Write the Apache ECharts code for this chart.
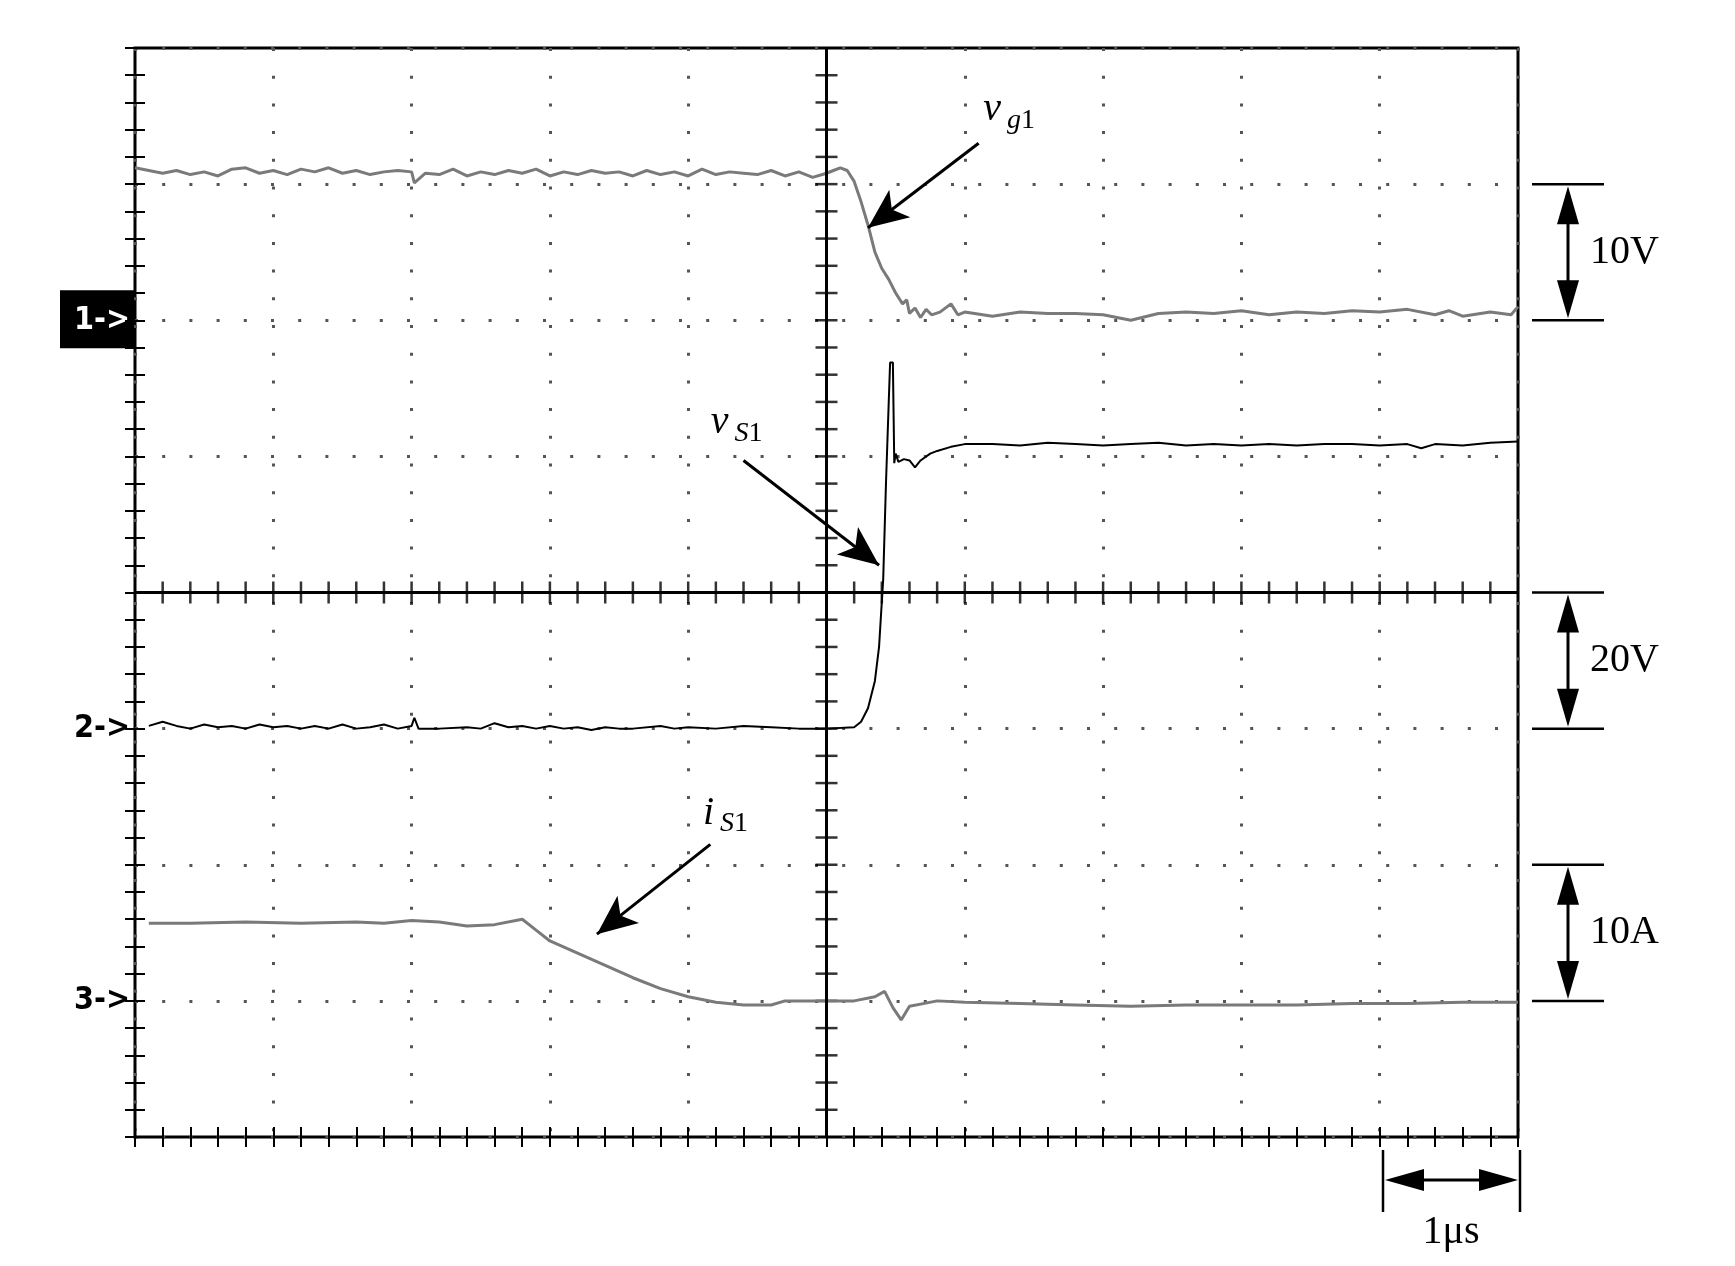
<!DOCTYPE html>
<html><head><meta charset="utf-8">
<script src="https://cdn.jsdelivr.net/npm/echarts@6/dist/echarts.min.js"></script>
<style>html,body{margin:0;background:#fff}#c{width:1735px;height:1266px}</style>
</head><body><div id="c"></div>
<script>
// scope traces, in screen divisions (x 0..10, y 0..8)
var vg1 = [[0,7.12],[0.1,7.1],[0.2,7.08],[0.3,7.1],[0.4,7.07],[0.5,7.09],[0.6,7.06],[0.7,7.11],[0.8,7.12],[0.9,7.08],[1.0,7.1],[1.1,7.07],[1.2,7.11],[1.3,7.09],[1.4,7.12],[1.5,7.08],[1.6,7.1],[1.7,7.07],[1.8,7.09],[1.9,7.1],[2.0,7.09],[2.02,7.01],[2.1,7.08],[2.2,7.07],[2.3,7.11],[2.4,7.06],[2.5,7.09],[2.6,7.07],[2.7,7.1],[2.8,7.08],[2.9,7.11],[3.0,7.06],[3.1,7.09],[3.2,7.07],[3.3,7.1],[3.4,7.08],[3.5,7.09],[3.6,7.06],[3.7,7.1],[3.8,7.07],[3.9,7.09],[4.0,7.06],[4.1,7.11],[4.2,7.07],[4.3,7.09],[4.4,7.08],[4.5,7.07],[4.6,7.1],[4.7,7.06],[4.8,7.09],[4.9,7.05],[5.0,7.08],[5.05,7.1],[5.1,7.12],[5.15,7.1],[5.2,7.02],[5.25,6.87],[5.3,6.7],[5.35,6.5],[5.4,6.38],[5.45,6.3],[5.5,6.2],[5.55,6.12],[5.58,6.15],[5.6,6.05],[5.64,6.09],[5.68,6.02],[5.72,6.08],[5.76,6.04],[5.82,6.06],[5.9,6.12],[5.95,6.04],[6.0,6.06],[6.2,6.03],[6.4,6.06],[6.6,6.05],[6.8,6.05],[7.0,6.04],[7.2,6.0],[7.4,6.05],[7.6,6.06],[7.8,6.05],[8.0,6.07],[8.2,6.04],[8.4,6.06],[8.6,6.05],[8.8,6.07],[9.0,6.06],[9.2,6.08],[9.4,6.04],[9.5,6.07],[9.6,6.03],[9.8,6.06],[9.95,6.04],[10,6.1]];
var vS1 = [[0.1,3.02],[0.2,3.05],[0.3,3.02],[0.4,3.0],[0.5,3.03],[0.6,3.01],[0.7,3.02],[0.8,3.0],[0.9,3.03],[1.0,3.01],[1.1,3.02],[1.2,3.0],[1.3,3.02],[1.4,3.0],[1.5,3.03],[1.6,3.0],[1.7,3.01],[1.8,3.03],[1.9,3.0],[2.0,3.02],[2.02,3.08],[2.05,3.0],[2.2,3.0],[2.4,3.01],[2.5,3.0],[2.6,3.04],[2.7,3.01],[2.8,3.02],[2.9,3.0],[3.0,3.02],[3.1,3.0],[3.2,3.01],[3.3,2.99],[3.4,3.01],[3.5,3.0],[3.6,3.0],[3.8,3.02],[3.9,3.0],[4.0,3.01],[4.2,3.0],[4.4,3.02],[4.6,3.01],[4.8,3.0],[5.0,3.0],[5.2,3.01],[5.25,3.05],[5.3,3.15],[5.35,3.35],[5.38,3.6],[5.41,4.1],[5.43,4.8],[5.45,5.4],[5.46,5.69],[5.48,5.69],[5.49,4.95],[5.5,5.02],[5.52,4.96],[5.56,4.98],[5.6,4.97],[5.64,4.92],[5.68,4.97],[5.75,5.02],[5.8,5.04],[5.9,5.07],[6.0,5.09],[6.2,5.09],[6.4,5.08],[6.6,5.1],[6.8,5.09],[7.0,5.08],[7.2,5.09],[7.4,5.1],[7.6,5.08],[7.8,5.09],[8.0,5.08],[8.2,5.09],[8.4,5.08],[8.6,5.09],[8.8,5.09],[9.0,5.08],[9.2,5.09],[9.3,5.06],[9.4,5.09],[9.6,5.08],[9.8,5.1],[10,5.11]];
var iS1 = [[0.1,1.57],[0.4,1.57],[0.8,1.58],[1.2,1.57],[1.6,1.58],[1.8,1.57],[2.0,1.59],[2.2,1.58],[2.4,1.55],[2.6,1.56],[2.8,1.6],[2.9,1.52],[3.0,1.44],[3.2,1.35],[3.4,1.26],[3.6,1.17],[3.8,1.09],[4.0,1.03],[4.2,0.99],[4.4,0.97],[4.6,0.97],[4.7,1.0],[5.0,1.0],[5.2,1.0],[5.35,1.03],[5.42,1.07],[5.48,0.95],[5.54,0.86],[5.6,0.96],[5.7,0.98],[5.8,1.0],[6.0,0.99],[6.4,0.98],[6.8,0.97],[7.2,0.96],[7.6,0.97],[8.0,0.97],[8.4,0.97],[8.8,0.98],[9.2,0.98],[9.6,0.99],[10,0.99]];
// centre cross ticks (minor divisions)
var xTicks = [0.2,0.4,0.6,0.8,1,1.2,1.4,1.6,1.8,2,2.2,2.4,2.6,2.8,3,3.2,3.4,3.6,3.8,4,4.2,4.4,4.6,4.8,5.2,5.4,5.6,5.8,6,6.2,6.4,6.6,6.8,7,7.2,7.4,7.6,7.8,8,8.2,8.4,8.6,8.8,9,9.2,9.4,9.6,9.8];
var yTicks = [0.2,0.4,0.6,0.8,1,1.2,1.4,1.6,1.8,2,2.2,2.4,2.6,2.8,3,3.2,3.4,3.6,3.8,4.2,4.4,4.6,4.8,5,5.2,5.4,5.6,5.8,6,6.2,6.4,6.6,6.8,7,7.2,7.4,7.6,7.8];

var L = 135, T = 48, W = 1383, H = 1089, dy = H / 8;
function yp(d) { return T + (8 - d) * dy; }
var serif = "'Liberation Serif', 'Times New Roman', serif";

function scaleBar(d1, d2, txt) {
  var y1 = yp(d1), y2 = yp(d2), x = 1568;
  return [
    { type: 'line', shape: { x1: 1532, y1: y1, x2: 1604, y2: y1 }, style: { stroke: '#000', lineWidth: 2.5 } },
    { type: 'line', shape: { x1: 1532, y1: y2, x2: 1604, y2: y2 }, style: { stroke: '#000', lineWidth: 2.5 } },
    { type: 'line', shape: { x1: x, y1: y1 + 20, x2: x, y2: y2 - 20 }, style: { stroke: '#000', lineWidth: 3 } },
    { type: 'polygon', shape: { points: [[x - 11, y1 + 40], [x + 11, y1 + 40], [x, y1 + 2]] }, style: { fill: '#000' } },
    { type: 'polygon', shape: { points: [[x - 11, y2 - 40], [x + 11, y2 - 40], [x, y2 - 2]] }, style: { fill: '#000' } },
    { type: 'text', x: 1590, y: (y1 + y2) / 2, style: { text: txt, font: '40px ' + serif, fill: '#000', verticalAlign: 'middle' } }
  ];
}
function chanTag(d, txt, boxed) {
  var y = yp(d);
  var g = [];
  if (boxed) g.push({ type: 'rect', shape: { x: 60, y: y - 30, width: 75, height: 58 }, style: { fill: '#000' } });
  g.push({ type: 'text', x: 130, y: y, style: { text: txt, font: 'bold 32px "DejaVu Sans Condensed", "DejaVu Sans", sans-serif', fill: boxed ? '#fff' : '#000', align: 'right', verticalAlign: 'middle' } });
  return g;
}
var labelRich = { v: { fontFamily: serif, fontStyle: 'italic', fontSize: 40, color: '#000' }, s: { fontFamily: serif, fontStyle: 'italic', fontSize: 28, color: '#000', padding: [22, 0, 0, 6] }, n: { fontFamily: serif, fontSize: 28, color: '#000', padding: [22, 0, 0, 0] } };

var graphic = [].concat(scaleBar(7, 6, '10V'), scaleBar(4, 3, '20V'), scaleBar(2, 1, '10A'), chanTag(6, '1->', true), chanTag(3, '2->', false), chanTag(1, '3->', false), [
  { type: 'line', shape: { x1: 1383, y1: 1150, x2: 1383, y2: 1212 }, style: { stroke: '#000', lineWidth: 2.5 } },
  { type: 'line', shape: { x1: 1520, y1: 1150, x2: 1520, y2: 1212 }, style: { stroke: '#000', lineWidth: 2.5 } },
  { type: 'line', shape: { x1: 1404, y1: 1180, x2: 1499, y2: 1180 }, style: { stroke: '#000', lineWidth: 3 } },
  { type: 'polygon', shape: { points: [[1424, 1169], [1424, 1191], [1385, 1180]] }, style: { fill: '#000' } },
  { type: 'polygon', shape: { points: [[1479, 1169], [1479, 1191], [1518, 1180]] }, style: { fill: '#000' } },
  { type: 'text', x: 1451, y: 1232, style: { text: '1\u03bcs', font: '40px ' + serif, fill: '#000', align: 'center', verticalAlign: 'middle' } }
]);

var chart = echarts.init(document.getElementById('c'));
var frameX = { min: 0, max: 10, interval: 1, axisLine: { show: false }, axisLabel: { show: false },
  axisTick: { inside: true, length: 10, lineStyle: { color: '#000', width: 2 } },
  minorTick: { show: true, splitNumber: 5, length: 10, lineStyle: { color: '#000', width: 2 } } };
var frameY = { min: 0, max: 8, interval: 1, axisLine: { show: false }, axisLabel: { show: false },
  axisTick: { inside: true, length: 10, lineStyle: { color: '#000', width: 2 } },
  minorTick: { show: true, splitNumber: 5, length: 10, lineStyle: { color: '#000', width: 2 } } };
chart.setOption({
  animation: false,
  graphic: graphic,
  grid: { left: L, top: T, width: W, height: H, show: true, borderColor: '#000', borderWidth: 3 },
  xAxis: [
    Object.assign({ type: 'value', position: 'bottom', splitLine: { show: true, lineStyle: { color: '#555', width: 3, type: [3, 24.7] } } }, frameX),
    Object.assign({ type: 'value', position: 'top', splitLine: { show: false } }, frameX)
  ],
  yAxis: [
    Object.assign({ type: 'value', position: 'left', splitLine: { show: true, lineStyle: { color: '#555', width: 3, type: [3, 24.2] } } }, frameY),
    Object.assign({ type: 'value', position: 'right', splitLine: { show: false } }, frameY)
  ],
  series: [
    { type: 'scatter', data: xTicks.map(function (t) { return [t, 4]; }), symbol: 'rect', symbolSize: [2.5, 22], itemStyle: { color: '#000' }, silent: true, z: 3 },
    { type: 'scatter', data: yTicks.map(function (t) { return [5, t]; }), symbol: 'rect', symbolSize: [22, 2.5], itemStyle: { color: '#000' }, silent: true, z: 3 },
    { type: 'line', data: vg1, showSymbol: false, lineStyle: { color: '#7a7a7a', width: 3 }, z: 4,
      markLine: { silent: true, symbol: 'none', label: { show: false }, data: [
        [{ coord: [5, 0], lineStyle: { color: '#000', width: 3, type: 'solid' } }, { coord: [5, 8] }],
        [{ coord: [0, 4], lineStyle: { color: '#000', width: 3, type: 'solid' } }, { coord: [10, 4] }]
      ] } },
    { type: 'line', data: vS1, showSymbol: false, lineStyle: { color: '#000', width: 2 }, z: 5 },
    { type: 'line', data: iS1, showSymbol: false, lineStyle: { color: '#7a7a7a', width: 3 }, z: 4,
      markLine: { silent: true, label: { show: false }, data: [
        [{ coord: [6.1, 7.3], lineStyle: { color: '#000', width: 3, type: 'solid' }, symbol: 'none' }, { coord: [5.3, 6.68], symbol: 'arrow', symbolSize: [26, 40] }],
        [{ coord: [4.4, 4.97], lineStyle: { color: '#000', width: 3, type: 'solid' }, symbol: 'none' }, { coord: [5.38, 4.2], symbol: 'arrow', symbolSize: [26, 40] }],
        [{ coord: [4.16, 2.15], lineStyle: { color: '#000', width: 3, type: 'solid' }, symbol: 'none' }, { coord: [3.34, 1.49], symbol: 'arrow', symbolSize: [26, 40] }]
      ] },
      markPoint: { silent: true, symbol: 'circle', symbolSize: 0, label: { show: true, rich: labelRich }, data: [
        { coord: [6.32, 7.55], label: { formatter: '{v|v}{s|g}{n|1}' } },
        { coord: [4.35, 5.25], label: { formatter: '{v|v}{s|S}{n|1}' } },
        { coord: [4.27, 2.38], label: { formatter: '{v|i}{s|S}{n|1}' } }
      ] } }
  ]
});
</script></body></html>
